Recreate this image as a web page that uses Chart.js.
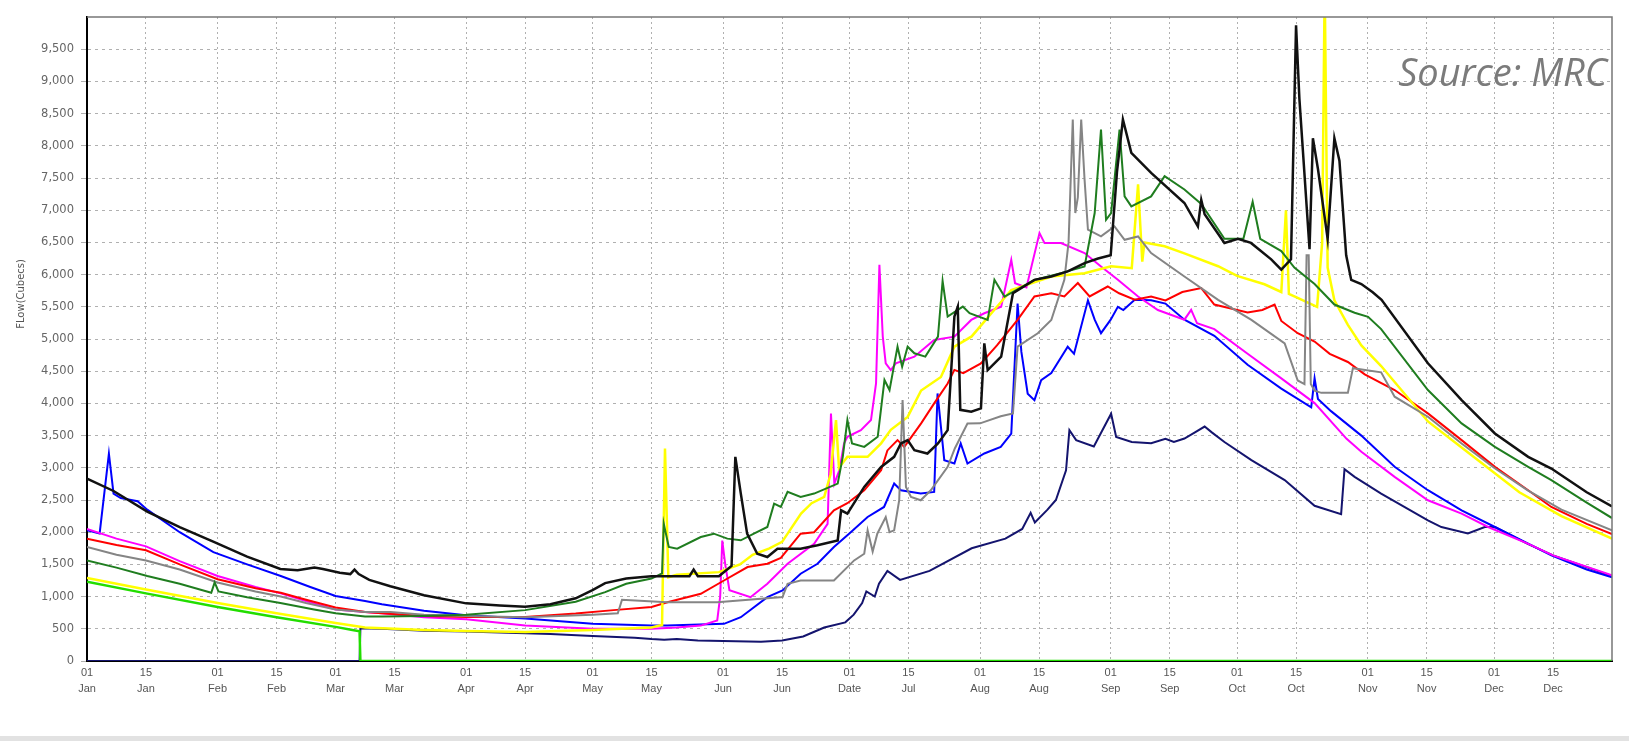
<!DOCTYPE html>
<html>
<head>
<meta charset="utf-8">
<title>Flow (Cubecs)</title>
<script src="https://cdn.jsdelivr.net/npm/chart.js@4.4.1/dist/chart.umd.min.js"></script>
<style>
  html, body { margin: 0; padding: 0; background: #fff; }
  #contenedor { position: relative; width: 1629px; height: 741px; overflow: hidden; }
  #fuente { position: absolute; right: 22px; top: 52px; font-family: "Open Sans"; font-style: italic;
            font-size: 38px; line-height: 38px; color: #7b7b7b; white-space: nowrap; }
  #franja { position: absolute; left: 0; top: 736px; width: 1629px; height: 5px; background: #e2e2e2; }
</style>
</head>
<body>
<div id="contenedor">
  <canvas id="grafico" width="1629" height="741" style="width:1629px;height:741px"></canvas>
  <div id="fuente">Source: MRC</div>
  <div id="franja"></div>
</div>
<script>
// Ejes: dia del anio (0 = 01 Jan) y caudal
const xTickDays = [0, 14, 31, 45, 59, 73, 90, 104, 120, 134, 151, 165, 181, 195, 212, 226, 243, 257, 273, 287, 304, 318, 334, 348]
const xTickLabels = [
    ['01', 'Jan'], ['15', 'Jan'], ['01', 'Feb'], ['15', 'Feb'], ['01', 'Mar'], ['15', 'Mar'],
    ['01', 'Apr'], ['15', 'Apr'], ['01', 'May'], ['15', 'May'], ['01', 'Jun'], ['15', 'Jun'],
    ['01', 'Date'], ['15', 'Jul'], ['01', 'Aug'], ['15', 'Aug'], ['01', 'Sep'], ['15', 'Sep'],
    ['01', 'Oct'], ['15', 'Oct'], ['01', 'Nov'], ['15', 'Nov'], ['01', 'Dec'], ['15', 'Dec']
]
const yTicks = [0, 500, 1000, 1500, 2000, 2500, 3000, 3500, 4000, 4500, 5000, 5500, 6000, 6500, 7000, 7500, 8000, 8500, 9000, 9500]
const yTitle = 'FLow(Cubecs)'

// Series [dia, caudal]
const limeFlow = [[0,1230],[14,1050],[31,840],[45,680],[59,530],[63,480],[64.7,460],[64.9,0],[362,0]]

const blackFlow = [[0,2830],[6.3,2640],[14.3,2320],[22,2080],[30.1,1850],[38,1620],[45.9,1430],[50,1410],[54,1450],
    [56,1430],[60,1370],[62.5,1350],[63.5,1420],[64.5,1350],[67,1260],[72,1160],[80,1020],[90,895],[98,860],[104,842],
    [110,880],[116,973],[120,1100],[123,1210],[128,1280],[134,1316],[143,1316],[144,1420],[145,1316],[150,1316],
    [153,1475],[153.9,3170],[155.2,2600],[156.7,1977],[159.1,1666],[161.5,1614],[163.9,1744],[169.4,1744],[173.4,1796],
    [178.2,1873],[179,2340],[180.5,2288],[184.5,2703],[188.5,3014],[191.6,3170],[193.2,3377],[194.8,3429],[196.4,3273],
    [199.5,3222],[202,3377],[204.3,3585],[205.9,5348],[206.7,5500],[207.3,3900],[209.9,3870],[212.2,3922],[213,4933],
    [213.8,4518],[217,4726],[219.8,5711],[224.9,5919],[228.9,5971],[232.8,6049],[236.8,6178],[240,6250],[243,6300],
    [244.5,7600],[245.9,8408],[247.9,7890],[252.6,7579],[260.5,7112],[263.7,6749],[264.5,7160],[265.3,6939],[270,6492],
    [273.2,6556],[276.3,6492],[281.1,6237],[283.5,6078],[285.8,6237],[287,9872],[287.8,8724],[290.2,6396],[291,8118],
    [292.2,7640],[294.5,6556],[296.1,8118],[297.3,7768],[298.9,6301],[300.1,5918],[302.5,5854],[305.2,5727],[307.3,5608],
    [318.3,4623],[326.3,4052],[334.2,3533],[342.1,3170],[347.6,2989],[356,2620],[362,2400]]

const darkGreenFlow = [[0,1560],[7,1450],[14.3,1320],[22,1200],[29.5,1060],[30.3,1220],[31.2,1080],[38,990],[45.9,900],
    [53.9,800],[59,740],[66,690],[70,690],[80,700],[90,720],[104,790],[116,920],[123,1070],[128,1200],[134,1280],
    [136.5,1360],[136.9,2133],[138.1,1770],[140.1,1744],[145.7,1925],[148.8,1977],[152,1900],[155.2,1874],[158.3,1977],
    [161.5,2081],[163.1,2444],[164.7,2392],[166.3,2626],[169.4,2548],[172.6,2600],[178.2,2755],[179.4,3170],[180.5,3741],
    [181.6,3377],[184.5,3325],[187.7,3481],[189.3,4363],[190.5,4207],[192.4,4881],[193.5,4570],[194.8,4881],[196.4,4778],
    [199,4726],[202,5037],[203.1,5900],[204.3,5348],[207.9,5504],[209.5,5400],[213.8,5296],[215.4,5919],[217.8,5659],
    [224.9,5919],[231.2,6023],[236.8,6126],[239.2,6956],[240.7,8253],[241.9,6852],[243.1,6956],[245.1,8253],[246.3,7215],
    [247.9,7060],[252.6,7215],[255.8,7527],[260.5,7321],[264.5,7098],[270,6556],[274.5,6556],[276.7,7130],[278.5,6556],
    [283.5,6365],[286.6,6110],[291.4,5854],[296.1,5535],[300.9,5408],[304.1,5344],[307.2,5153],[318.3,4208],[326.3,3689],
    [334.2,3326],[342.1,3015],[347.6,2807],[356,2460],[362,2220]]

const grayFlow = [[0,1770],[7,1650],[14,1560],[22,1420],[31,1220],[40,1080],[46,1000],[52,900],[59,800],[66,760],
    [72,760],[80,720],[90,700],[104,680],[120,720],[126,740],[127,950],[137.7,914],[149.6,914],[165.1,992],[166.3,1199],
    [169.4,1251],[177.3,1251],[182.1,1562],[184.5,1666],[185.3,2029],[186.5,1700],[187.6,1977],[189.6,2236],[190.5,2000],
    [191.6,2029],[192.8,2496],[193.6,4052],[194.4,2703],[195.6,2548],[197.9,2496],[200.3,2651],[204.3,3015],[206,3300],
    [209,3689],[212,3690],[216.9,3800],[219.8,3844],[220.9,4881],[225.7,5089],[228.9,5296],[232,5919],[233,6500],
    [234,8408],[234.6,6956],[235.2,7200],[236,8408],[236.8,7475],[237.6,6697],[240.7,6593],[243.9,6749],[246.3,6541],
    [249.5,6593],[252.6,6334],[260.5,5971],[268.5,5608],[276.4,5296],[284.3,4933],[287.4,4356],[289,4300],[289.5,6300],
    [290,6300],[290.5,4300],[291.4,4196],[293,4164],[299.3,4164],[300.5,4547],[307.2,4483],[310.4,4104],[318.3,3793],
    [326.3,3378],[334,3000],[342,2650],[350,2350],[362,2030]]

const yellowFlow = [[0,1290],[14,1110],[31,900],[45,740],[59,590],[66,520],[80,480],[90,465],[104,450],[120,480],
    [134,520],[136.5,560],[137.2,3300],[138,1300],[140,1340],[150,1380],[155,1500],[158,1650],[162,1750],[165,1850],
    [169.5,2290],[172,2450],[175,2550],[176.5,2900],[177.8,3740],[178.5,3000],[180.5,3170],[185.3,3170],[188.5,3380],
    [190.8,3590],[194.8,3790],[198,4200],[202.7,4410],[205.9,4880],[210,5040],[216,5500],[219.4,5760],[228.9,5970],
    [236.8,6020],[243.1,6130],[248,6100],[249.5,7400],[250.5,6200],[251,6500],[255.8,6440],[260.5,6330],[268.5,6130],
    [273,5980],[279.5,5850],[283.5,5730],[284.6,7000],[285.3,5700],[287,5650],[292,5500],[293.2,6500],[293.8,10500],
    [294.5,6110],[296.1,5600],[299.3,5220],[302.5,4900],[307.2,4580],[318.3,3720],[328.6,3200],[340,2620],[350,2250],
    [362,1900]]

const redFlow = [[0,1900],[7,1800],[14,1720],[22,1500],[31,1270],[40,1130],[46,1060],[52,950],[59,830],[66,760],
    [70,740],[80,700],[90,685],[104,685],[116,736],[125,790],[134,840],[138,915],[145.7,1044],[151.2,1250],[156.8,1459],
    [161.5,1510],[164.7,1600],[169.4,1977],[172.6,2000],[177.3,2340],[180.5,2450],[184.5,2651],[188.5,2963],[190,3270],
    [192.4,3430],[194,3325],[198,3690],[201.1,4000],[204.3,4310],[205.9,4520],[208,4470],[212.2,4620],[216,4900],
    [220.9,5296],[224.9,5660],[228.9,5710],[232,5660],[235.2,5870],[238,5660],[242.3,5815],[245,5710],[248.7,5610],
    [252.6,5660],[256,5600],[260,5730],[264.5,5790],[267.6,5535],[275.5,5410],[279,5450],[281.9,5535],[283.5,5280],
    [287.4,5090],[291.4,4960],[295,4770],[299.3,4643],[303.3,4450],[310.4,4208],[318.3,3845],[326.3,3430],[334.2,3015],
    [342.1,2652],[347.6,2392],[356,2130],[362,1970]]

const magentaFlow = [[0,2050],[7,1900],[14,1780],[22,1550],[31,1320],[40,1150],[46,1050],[52,930],[59,800],[66,760],
    [70,740],[80,680],[90,650],[104,550],[120,500],[134,500],[140,520],[145.7,550],[149.6,630],[150.3,1000],[150.8,1870],
    [151.5,1500],[152.5,1100],[157.5,990],[161.5,1200],[166.3,1510],[172.6,1820],[175.8,2130],[176.6,3844],[177.4,2755],
    [178.6,2963],[179.7,3377],[180.5,3481],[183.7,3585],[186.1,3741],[187.3,4311],[188.1,6152],[188.9,5037],[189.6,4622],
    [190.8,4518],[192,4622],[196.4,4726],[201.1,4985],[205.9,5037],[209.9,5296],[213,5400],[217,5500],[219.4,6230],
    [220.3,5867],[223,5800],[226.1,6645],[227.3,6489],[231.2,6489],[236.8,6334],[240.7,6126],[244.7,5919],[249.5,5659],
    [254.2,5450],[260.5,5300],[262.1,5452],[263.5,5244],[267.6,5153],[275.5,4770],[283.5,4388],[291.4,4005],[299,3450],
    [302.5,3250],[310.4,2859],[318.3,2496],[326.3,2289],[332.6,2081],[342,1822],[348,1640],[362,1330]]

const blueFlow = [[0,2030],[3,1980],[5.2,3220],[6.3,2600],[8,2530],[12,2480],[14.3,2350],[22,2000],[30,1690],[38,1500],
    [46,1320],[53,1150],[59,1010],[66,930],[70,880],[80,780],[90,710],[104,660],[120,580],[134,550],[137.7,551],
    [151.2,577],[155.2,680],[161.5,992],[165.1,1096],[169.4,1355],[173.4,1510],[177.3,1770],[180.9,1977],[185.3,2236],
    [189.2,2392],[191.6,2755],[193.2,2651],[197.9,2600],[201.1,2626],[201.9,4155],[203.5,3118],[205.9,3066],[207.4,3378],
    [209,3066],[213,3222],[216.9,3326],[219.4,3530],[220.9,5550],[221.8,4800],[223.3,4150],[224.9,4050],[226.5,4360],
    [228.9,4470],[232.8,4880],[234.3,4770],[237.6,5600],[239.2,5300],[240.7,5090],[243,5300],[244.7,5500],[246,5450],
    [248.7,5610],[252.6,5600],[256,5550],[260.5,5300],[267.6,5050],[275.5,4600],[283.5,4230],[290.6,3940],[291.4,4390],
    [292.2,4070],[295.3,3880],[302.5,3500],[310.4,3015],[318.3,2652],[326.3,2340],[334.2,2081],[342.1,1822],[347.6,1640],
    [356,1420],[362,1300]]

const navyFlow = [[0,0],[64.7,0],[64.9,510],[70,500],[80,470],[90,460],[100,440],[110,420],[120,390],[130,360],[134,340],
    [137,330],[140,340],[145,320],[151,310],[160,300],[165,320],[170,380],[175,520],[180,600],[182,720],[184,900],
    [185,1080],[187,1000],[188,1200],[190,1400],[193,1260],[200,1400],[210,1750],[218,1900],[222,2050],[224,2300],
    [225,2150],[228,2350],[230,2500],[232.4,2960],[233.2,3585],[234.8,3430],[239,3330],[243.1,3840],[244.3,3480],
    [248,3400],[252.6,3380],[256,3450],[258,3400],[260.5,3455],[263,3550],[265.3,3640],[267,3550],[270,3400],
    [276.4,3120],[284.3,2810],[291.4,2410],[297.7,2280],[298.5,2980],[300.9,2860],[307.2,2600],[318.3,2185],[321.5,2080],
    [327.8,1980],[331.8,2080],[334.2,2080],[342,1820],[348,1640],[362,1320]]

function serie(puntos, color, ancho) {
    return {
        data: puntos.map(p => ({ x: p[0], y: p[1] })),
        borderColor: color,
        borderWidth: ancho,
        pointRadius: 0,
        tension: 0,
        fill: false
    }
}

// Marco gris arriba y a la derecha, y titulo del eje Y
const marco = {
    id: 'marco',
    afterDatasetsDraw(chart) {
        const { ctx, chartArea: a } = chart
        ctx.save()
        ctx.strokeStyle = '#777'
        ctx.lineWidth = 1.5
        ctx.beginPath()
        ctx.moveTo(a.left, a.top)
        ctx.lineTo(a.right, a.top)
        ctx.lineTo(a.right, a.bottom)
        ctx.stroke()
        ctx.restore()
    },
    afterDraw(chart) {
        const ctx = chart.ctx
        const y = chart.scales.y.getPixelForValue(5700)
        ctx.save()
        ctx.translate(21, y)
        ctx.rotate(-Math.PI / 2)
        ctx.font = '10px "DejaVu Sans"'
        ctx.fillStyle = '#555'
        ctx.textAlign = 'center'
        ctx.textBaseline = 'middle'
        ctx.fillText(yTitle, 0, 0)
        ctx.restore()
    }
}

const contexto = document.getElementById('grafico').getContext('2d')
const grafico = new Chart(contexto, {
    type: 'line',
    data: {
        datasets: [
            serie(limeFlow, '#22dd00', 2.5),
            serie(blackFlow, '#111111', 2.5),
            serie(darkGreenFlow, '#1f7d1f', 2),
            serie(grayFlow, '#858585', 2),
            serie(yellowFlow, '#ffff00', 2.5),
            serie(redFlow, '#ff0000', 2),
            serie(magentaFlow, '#ff00ff', 2),
            serie(blueFlow, '#0000ff', 2),
            serie(navyFlow, '#14146e', 2)
        ]
    },
    options: {
        responsive: false,
        animation: false,
        layout: { padding: { top: 17, right: 17, left: 0, bottom: 0 } },
        plugins: {
            legend: { display: false },
            tooltip: { enabled: false }
        },
        scales: {
            x: {
                type: 'linear',
                min: 0,
                max: 362,
                afterFit: s => { s.height = 80 },
                afterBuildTicks: s => { s.ticks = xTickDays.map(v => ({ value: v })) },
                ticks: {
                    autoSkip: false,
                    maxRotation: 0,
                    padding: 4,
                    color: '#555',
                    font: { family: 'Liberation Sans', size: 11, lineHeight: 1.45 },
                    callback: (v, i) => xTickLabels[i]
                },
                grid: { color: '#b0b0b0', lineWidth: 1, drawTicks: false },
                border: { color: '#000', width: 2, dash: [2, 3] }
            },
            y: {
                type: 'linear',
                min: 0,
                max: 10000,
                afterFit: s => { s.width = 87 },
                afterBuildTicks: s => { s.ticks = yTicks.map(v => ({ value: v })) },
                ticks: {
                    padding: 7,
                    color: '#666',
                    font: { family: 'DejaVu Sans', size: 11.5 },
                    callback: v => v.toLocaleString('en-US')
                },
                grid: { color: '#b0b0b0', lineWidth: 1, tickLength: 6 },
                border: { color: '#000', width: 2, dash: [3, 4] }
            }
        }
    },
    plugins: [marco]
})
</script>
</body>
</html>
